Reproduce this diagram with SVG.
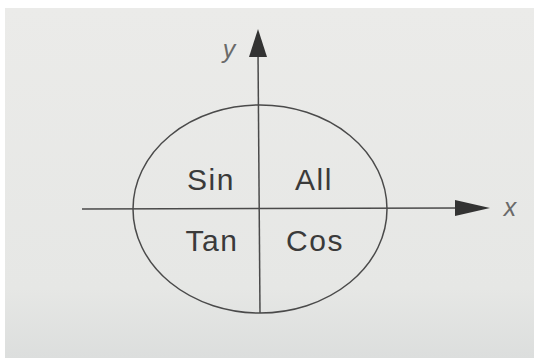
<svg xmlns="http://www.w3.org/2000/svg" width="534" height="358" viewBox="0 0 534 358">
<style>
.ln{stroke:#4a4a4a;stroke-width:1.5;fill:none}
.lbl{font-family:"Liberation Sans",Arial,sans-serif;font-size:30px;letter-spacing:1.5px;fill:#3a3a3a;text-anchor:middle}
.ax{font-family:"Liberation Sans",Arial,sans-serif;font-size:25px;fill:#6a6a6a;font-style:italic;text-anchor:middle}
</style>
<defs>
<linearGradient id="bg" x1="0" y1="0" x2="0" y2="1">
<stop offset="0" stop-color="#ebebe9"/>
<stop offset="0.8" stop-color="#e6e7e5"/>
<stop offset="1" stop-color="#dcdedd"/>
</linearGradient>
</defs>
<rect width="534" height="358" fill="#ffffff"/>
<rect x="5" y="8" width="529" height="350" fill="url(#bg)"/>
<g id="circle">
<ellipse class="ln" cx="260" cy="209" rx="127" ry="104"/>
</g>
<g id="connectors">
<line class="ln" x1="82" y1="209" x2="460" y2="208"/>
<polygon points="455,200 490,208 455,216" fill="#333"/>
<line class="ln" x1="260" y1="313" x2="258" y2="52"/>
<polygon points="249,57 258,29 267,57" fill="#333"/>
</g>
<g id="axis-y"><text class="ax" x="229" y="58">y</text></g>
<g id="axis-x"><text class="ax" x="510" y="216">x</text></g>
<g id="q2"><text class="lbl" x="211" y="190">Sin</text></g>
<g id="q1"><text class="lbl" x="314" y="190">All</text></g>
<g id="q3"><text class="lbl" x="212" y="251">Tan</text></g>
<g id="q4"><text class="lbl" x="315" y="251">Cos</text></g>
</svg>
